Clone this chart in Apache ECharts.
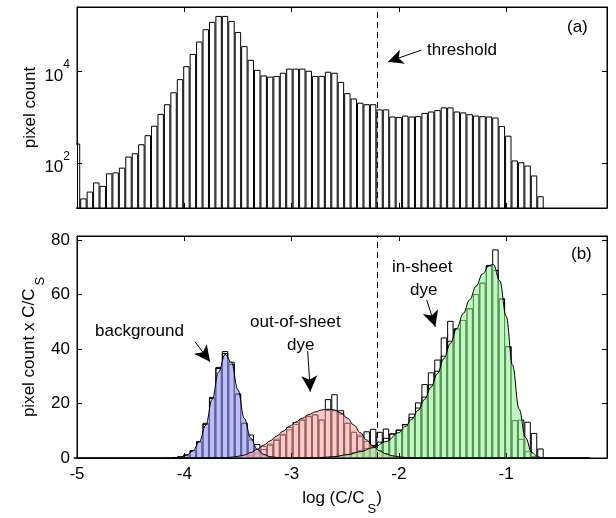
<!DOCTYPE html>
<html><head><meta charset="utf-8">
<script src="https://cdn.jsdelivr.net/npm/echarts@6/dist/echarts.min.js"></script>
<style>html,body{margin:0;padding:0;background:#fff}#c{width:616px;height:518px}</style>
</head><body><div id="c"></div>
<script>
// ---- data ----
const binCenters = [-5.00,-4.94,-4.88,-4.82,-4.76,-4.70,-4.64,-4.58,-4.52,-4.46,-4.40,-4.34,-4.28,-4.22,-4.16,-4.10,-4.04,-3.98,-3.92,-3.86,-3.80,-3.74,-3.68,-3.62,-3.56,-3.50,-3.44,-3.38,-3.32,-3.26,-3.20,-3.14,-3.08,-3.02,-2.96,-2.90,-2.84,-2.78,-2.72,-2.66,-2.60,-2.54,-2.48,-2.42,-2.36,-2.30,-2.24,-2.18,-2.12,-2.06,-2.00,-1.94,-1.88,-1.82,-1.76,-1.70,-1.64,-1.58,-1.52,-1.46,-1.40,-1.34,-1.28,-1.22,-1.16,-1.10,-1.04,-0.98,-0.92,-0.86,-0.80,-0.74,-0.68];
const pixelCount = [270,17,24,38,32,60,63,80,140,165,260,410,660,1200,1950,3550,6900,13200,24500,45700,85000,123000,166000,166000,129000,74000,36300,18200,11000,8300,7800,8100,9500,11700,11700,11700,10500,8100,8100,10000,9500,6000,3400,2600,2100,1950,1950,1500,1500,1050,1020,1100,1050,1070,1260,1350,1450,1660,1660,1350,1290,1180,1100,1070,1050,1000,650,400,115,105,89,54,19];
const weightedCount = [0,0,0,0,0,0,0,0,0,0,0,0,0,0,0.1,0.3,0.6,1.3,2.9,6.2,12.9,22.4,33.4,39.2,35.3,23.7,13.0,8.6,5.1,4.4,5.3,7.1,8.9,11.4,13.2,14.2,15.5,16.0,14.1,21.6,23.4,17.5,12.9,9.6,8.6,9.8,10.7,9.6,10.8,9.0,10.4,12.4,16.3,20.4,27.1,31.4,36.1,44.2,50.3,47.5,50.6,54.9,60.1,64.3,70.8,76.5,58.5,41.0,13.9,14.1,13.3,9.2,3.5];

const bgBinX = [-4.04,-3.98,-3.92,-3.86,-3.80,-3.74,-3.68,-3.62,-3.56,-3.50,-3.44,-3.38,-3.32,-3.26,-3.20];
const bgBarY = [0.5,1.2,2.8,6.0,12.5,22.0,33.0,38.5,34.5,23.5,12.8,6.8,3.2,1.3,0.5];
const outBinX = [-3.44,-3.38,-3.32,-3.26,-3.20,-3.14,-3.08,-3.02,-2.96,-2.90,-2.84,-2.78,-2.72,-2.66,-2.60,-2.54,-2.48,-2.42,-2.36,-2.30,-2.24,-2.18,-2.12,-2.06,-2.00];
const outBarY = [0.3,1.0,2.0,3.3,4.8,6.6,8.5,10.5,12.5,14.0,15.3,16.0,14.1,17.6,17.5,16.3,12.9,9.6,8.0,6.2,4.5,3.0,1.8,1.0,0.5];
const inBinX = [-2.60,-2.54,-2.48,-2.42,-2.36,-2.30,-2.24,-2.18,-2.12,-2.06,-2.00,-1.94,-1.88,-1.82,-1.76,-1.70,-1.64,-1.58,-1.52,-1.46,-1.40,-1.34,-1.28,-1.22,-1.16,-1.10,-1.04,-0.98,-0.92,-0.86,-0.80,-0.74,-0.68];
const inBarY = [0.6,1.0,1.5,2.2,2.9,3.7,4.8,6.0,7.4,9.0,10.4,12.4,15.0,18.5,22.5,27.0,32.0,37.5,43.0,47.5,50.6,54.9,60.1,64.3,70.5,69.0,58.5,41.0,13.9,7.0,2.5,0.7,0.2];

const bgCurveX = [-4.10,-4.04,-3.98,-3.92,-3.86,-3.80,-3.74,-3.68,-3.62,-3.56,-3.50,-3.44,-3.38,-3.32,-3.26,-3.20,-3.14,-3.02,-2.50,-1.50,-0.22];
const bgCurveY = [0,0.3,1.0,2.6,6.0,12.0,21.5,31.5,38.0,35.0,25.0,14.5,7.2,3.2,1.3,0.5,0.2,0,0,0,0];
const outCurveX = [-4.10,-3.62,-3.56,-3.50,-3.44,-3.38,-3.32,-3.26,-3.20,-3.14,-3.08,-3.02,-2.96,-2.90,-2.84,-2.78,-2.72,-2.66,-2.60,-2.54,-2.48,-2.42,-2.36,-2.30,-2.24,-2.18,-2.12,-2.06,-2.00,-1.94,-1.82,-1.00,-0.22];
const outCurveY = [0,0.1,0.3,0.6,1.1,2.0,3.2,4.7,6.3,8.0,9.8,11.6,13.2,14.6,15.9,16.9,17.6,17.9,17.6,16.5,14.6,12.1,9.3,6.6,4.3,2.6,1.5,0.8,0.4,0.2,0,0,0];
const inCurveX = [-4.10,-3.00,-2.72,-2.60,-2.48,-2.36,-2.24,-2.12,-2.00,-1.94,-1.88,-1.82,-1.76,-1.70,-1.64,-1.58,-1.52,-1.46,-1.40,-1.34,-1.28,-1.22,-1.16,-1.12,-1.06,-1.00,-0.94,-0.88,-0.82,-0.76,-0.70,-0.64,-0.22];
const inCurveY = [0,0,0.2,0.5,1.2,2.3,3.8,6.0,9.3,11.5,14.2,17.5,21.5,26.0,31.0,36.5,42.0,47.5,53.0,58.0,63.0,67.5,70.5,71.0,65.0,52.0,34.0,18.0,7.5,2.0,0.4,0,0];

const xTicks = [-5,-4,-3,-2,-1];
const logTicks = [100,10000];
const linTicks = [0,20,40,60,80];
const thresholdX = -2.2;

// ---- chart ----
const FONT = '"Liberation Sans", Arial, Helvetica, sans-serif';
const pairs = (xs, ys) => xs.map((x, i) => [x, ys[i]]);
const chart = echarts.init(document.getElementById('c'), null, {renderer: 'canvas'});

const XMIN = -5, XMAX = -0.06;
const CLEAR = 'rgba(0,0,0,0)';
const baseAxis = {
  z: 60,
  nameMoveOverlap: false,
  axisLine: {show: true, onZero: false, lineStyle: {color: '#000', width: 1}},
  splitLine: {show: false},
  axisTick: {show: true, inside: true, length: 5, lineStyle: {color: '#000'}},
};
function xAx(grid, pos, labels) {
  return Object.assign({}, baseAxis, {
    type: 'value', gridIndex: grid, position: pos, min: XMIN, max: XMAX,
    axisTick: Object.assign({}, baseAxis.axisTick, {customValues: xTicks}),
    axisLabel: {show: labels, customValues: xTicks, color: '#000', fontSize: 17, fontFamily: FONT, margin: 8}
  });
}
const supFmt = v => '{b|10}{e|' + Math.round(Math.log10(v)) + '}';
const subRich = {
  a: {fontSize: 17, fontFamily: FONT, color: '#000', verticalAlign: 'top', lineHeight: 26},
  s: {fontSize: 13, fontFamily: FONT, color: '#000', verticalAlign: 'bottom', lineHeight: 13, padding: [0, 0, 0, 3]}
};
function areaSeries(xs, ys, color) {
  return {type: 'line', xAxisIndex: 2, yAxisIndex: 2, data: pairs(xs, ys), smooth: 0.4, smoothMonotone: 'x',
    symbol: 'none', silent: true, lineStyle: {width: 0}, areaStyle: {color: color}};
}
function curveSeries(xs, ys) {
  return {type: 'line', xAxisIndex: 2, yAxisIndex: 2, data: pairs(xs, ys), smooth: 0.4, smoothMonotone: 'x',
    symbol: 'none', silent: true, lineStyle: {color: '#000', width: 1}};
}
function outlineBars(xs, ys) {
  return {type: 'bar', xAxisIndex: 2, yAxisIndex: 2, data: pairs(xs, ys), barCategoryGap: '0%', barGap: '-100%',
    silent: true, itemStyle: {color: CLEAR, borderColor: '#000', borderWidth: 1}};
}
const textEl = (txt, left, top) => ({type: 'text', left: left, top: top, z: 50, style: {text: txt, font: '17px ' + FONT, fill: '#000'}});

const option = {
  animation: false,
  backgroundColor: '#fff',
  textStyle: {fontFamily: FONT, color: '#000'},
  grid: [
    {left: 77, top: 7, width: 530, height: 201, containLabel: false, show: true, borderColor: '#000', borderWidth: 1, backgroundColor: CLEAR},
    {left: 77, top: 236, width: 530, height: 222, containLabel: false, show: true, borderColor: '#000', borderWidth: 1, backgroundColor: CLEAR}
  ],
  xAxis: [
    xAx(0, 'bottom', false),
    xAx(0, 'top', false),
    Object.assign(xAx(1, 'bottom', true), {
      name: '{a|log (C/C}{s|S}{a|)}', nameLocation: 'middle', nameGap: 32,
      nameTextStyle: {rich: subRich}
    }),
    xAx(1, 'top', false)
  ],
  yAxis: [
    Object.assign({}, baseAxis, {
      type: 'log', gridIndex: 0, position: 'left', min: 10.5, max: 260000,
      axisTick: Object.assign({}, baseAxis.axisTick, {customValues: logTicks}),
      axisLabel: {customValues: logTicks, formatter: supFmt, margin: 7, rich: {
        b: {fontSize: 17, fontFamily: FONT, color: '#000', verticalAlign: 'bottom', lineHeight: 26},
        e: {fontSize: 12, fontFamily: FONT, color: '#000', verticalAlign: 'top', lineHeight: 12}
      }},
      name: 'pixel count', nameLocation: 'middle', nameGap: 38,
      nameTextStyle: {fontSize: 17, fontFamily: FONT, color: '#000'}
    }),
    Object.assign({}, baseAxis, {
      type: 'log', gridIndex: 0, position: 'right', min: 10.5, max: 260000,
      axisTick: Object.assign({}, baseAxis.axisTick, {customValues: logTicks}),
      axisLabel: {show: false}
    }),
    Object.assign({}, baseAxis, {
      type: 'value', gridIndex: 1, position: 'left', min: 0, max: 81.4,
      axisTick: Object.assign({}, baseAxis.axisTick, {customValues: linTicks}),
      axisLabel: {customValues: linTicks, color: '#000', fontSize: 17, fontFamily: FONT, margin: 7},
      name: '{a|pixel count x C/C}{s|S}', nameLocation: 'middle', nameGap: 30,
      nameTextStyle: {rich: subRich}
    }),
    Object.assign({}, baseAxis, {
      type: 'value', gridIndex: 1, position: 'right', min: 0, max: 81.4,
      axisTick: Object.assign({}, baseAxis.axisTick, {customValues: linTicks}),
      axisLabel: {show: false}
    })
  ],
  series: [
    {
      type: 'bar', xAxisIndex: 0, yAxisIndex: 0, data: pairs(binCenters, pixelCount),
      barCategoryGap: '0%', barGap: '0%', clip: true, silent: true,
      itemStyle: {color: '#fff', borderColor: '#000', borderWidth: 1},
      markLine: {
        silent: true, animation: false, label: {show: false}, symbol: ['none', 'none'],
        data: [
          {xAxis: thresholdX, lineStyle: {type: [6, 4], color: '#000', width: 1}},
          [{coord: [-1.79, 29800], symbol: 'none'}, {coord: [-2.10, 16500], symbol: 'arrow', symbolSize: [11, 15], lineStyle: {type: 'solid', color: '#000', width: 1}}]
        ]
      }
    },
    areaSeries(bgCurveX, bgCurveY, 'rgba(150,150,245,0.9)'),
    areaSeries(outCurveX, outCurveY, 'rgba(255,165,165,0.85)'),
    areaSeries(inCurveX, inCurveY, 'rgba(150,245,150,0.85)'),
    {
      type: 'bar', xAxisIndex: 2, yAxisIndex: 2, data: pairs(binCenters, weightedCount),
      barCategoryGap: '0%', barGap: '-100%', silent: true,
      itemStyle: {color: CLEAR, borderColor: '#000', borderWidth: 1},
      markLine: {
        silent: true, animation: false, label: {show: false}, symbol: ['none', 'none'],
        lineStyle: {type: 'solid', color: '#000', width: 1},
        data: [
          {xAxis: thresholdX, lineStyle: {type: [6, 4], color: '#000', width: 1}},
          [{coord: [-3.90, 42.6], symbol: 'none'}, {coord: [-3.76, 35.3], symbol: 'arrow', symbolSize: [12, 16]}],
          [{coord: [-2.85, 39.2], symbol: 'none'}, {coord: [-2.825, 24.3], symbol: 'arrow', symbolSize: [12, 16]}],
          [{coord: [-1.74, 57.9], symbol: 'none'}, {coord: [-1.66, 48.1], symbol: 'arrow', symbolSize: [12, 16]}]
        ]
      }
    },
    outlineBars(bgBinX, bgBarY),
    outlineBars(outBinX, outBarY),
    outlineBars(inBinX, inBarY),
    curveSeries(bgCurveX, bgCurveY),
    curveSeries(outCurveX, outCurveY),
    curveSeries(inCurveX, inCurveY)
  ],
  graphic: [
    // mask the part of the edge bin that lies left of the axis, then redraw the border
    {type: 'rect', z: 40, shape: {x: 66, y: 6, width: 10, height: 203}, style: {fill: '#fff'}, silent: true},
    {type: 'line', z: 100, shape: {x1: 77.5, y1: 7, x2: 77.5, y2: 208}, style: {stroke: '#000', lineWidth: 1}, silent: true},
    textEl('threshold', 427, 42),
    textEl('(a)', 567, 19),
    textEl('(b)', 571, 246),
    textEl('background', 95, 323),
    textEl('out-of-sheet', 250, 314),
    textEl('dye', 287, 337),
    textEl('in-sheet', 392, 259),
    textEl('dye', 410, 282)
  ]
};
chart.setOption(option);
</script>
</body></html>
